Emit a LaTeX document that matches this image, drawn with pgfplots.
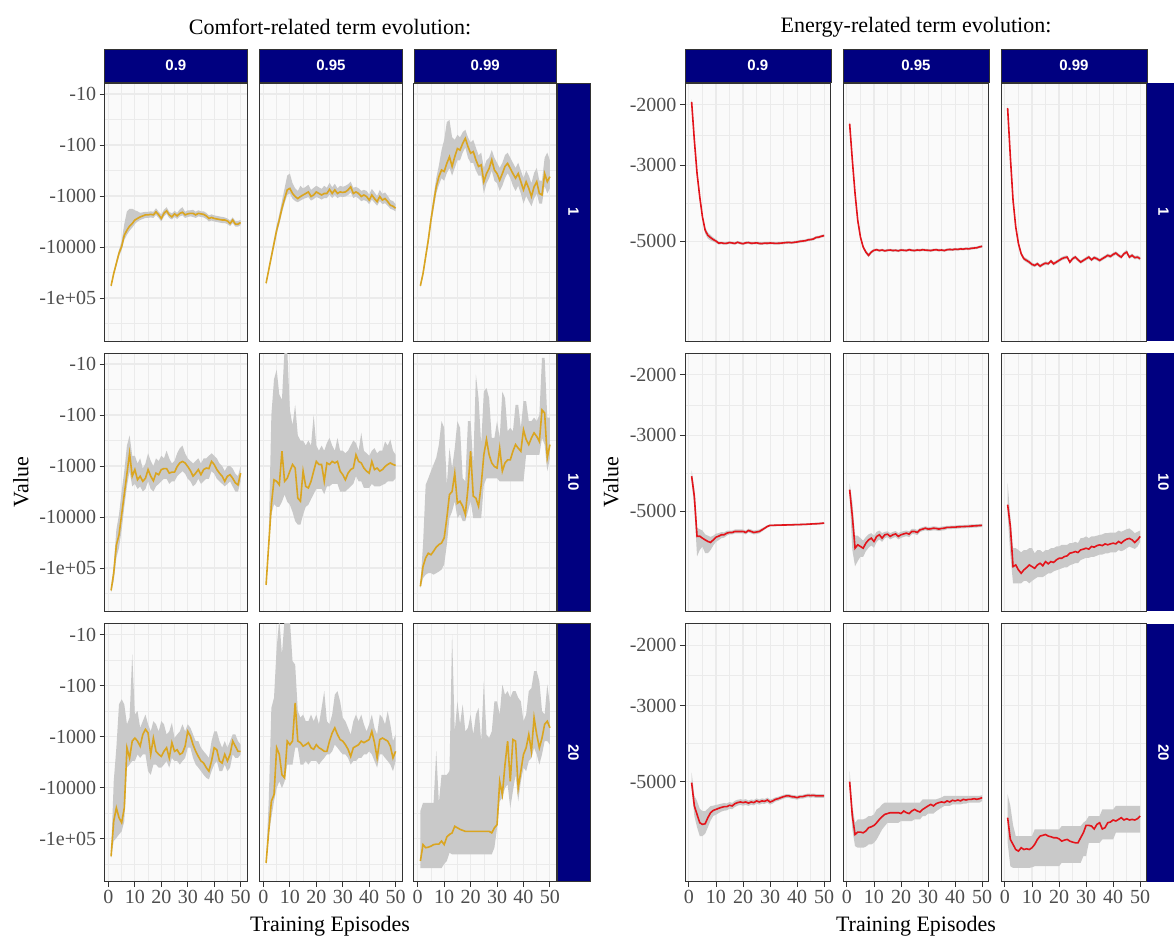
\documentclass[border=0pt]{standalone}
\usepackage{fontspec}
\setmainfont{Liberation Serif}
\newfontfamily\sansf{Liberation Sans}
\usepackage{pgfplots}
\usepackage{pgfplotstable}
\pgfplotsset{compat=1.18}
\usepgfplotslibrary{fillbetween}

\newcommand\ticksize{\fontsize{20}{22}\selectfont}
\newcommand\titlef{\fontsize{22}{24}\selectfont}
\newcommand\stripf{\sansf\bfseries\fontsize{15}{17}\selectfont}

\definecolor{navyc}{HTML}{000080}
\definecolor{gridc}{HTML}{EBEBEB}
\definecolor{panelbg}{HTML}{FAFAFA}
\definecolor{framec}{HTML}{333333}
\definecolor{tickc}{HTML}{4D4D4D}
\definecolor{ribc}{HTML}{C9C9C9}
\definecolor{goldc}{HTML}{DAA520}
\definecolor{redc}{HTML}{E3141B}

% Comfort term: columns are log10(-value) for mean (m), ribbon upper edge (u), ribbon lower edge (l)
\pgfplotstableread[row sep=\\]{x m u l\\
1 4.76 4.73 4.79\\ 2 4.52 4.48 4.56\\ 3 4.32 4.27 4.37\\ 4 4.12 4.06 4.18\\ 5 3.99 3.88 4.06\\
6 3.77 3.55 3.86\\ 7 3.67 3.30 3.76\\ 8 3.59 3.25 3.68\\ 9 3.54 3.25 3.62\\ 10 3.47 3.28 3.55\\
11 3.44 3.30 3.50\\ 12 3.41 3.33 3.47\\ 13 3.39 3.32 3.45\\ 14 3.37 3.31 3.43\\ 15 3.37 3.31 3.43\\
16 3.36 3.30 3.42\\ 17 3.37 3.31 3.43\\ 18 3.31 3.24 3.37\\ 19 3.37 3.31 3.43\\ 20 3.44 3.36 3.50\\
21 3.34 3.27 3.40\\ 22 3.29 3.22 3.35\\ 23 3.37 3.31 3.43\\ 24 3.41 3.34 3.46\\ 25 3.35 3.29 3.41\\
26 3.39 3.33 3.45\\ 27 3.34 3.26 3.40\\ 28 3.32 3.22 3.38\\ 29 3.37 3.31 3.43\\ 30 3.35 3.28 3.41\\
31 3.34 3.28 3.40\\ 32 3.34 3.27 3.41\\ 33 3.37 3.31 3.43\\ 34 3.34 3.28 3.40\\ 35 3.35 3.30 3.41\\
36 3.36 3.30 3.42\\ 37 3.39 3.33 3.45\\ 38 3.44 3.38 3.50\\ 39 3.42 3.36 3.48\\ 40 3.44 3.38 3.50\\
41 3.45 3.39 3.51\\ 42 3.46 3.40 3.52\\ 43 3.47 3.41 3.53\\ 44 3.47 3.42 3.53\\ 45 3.49 3.44 3.55\\
46 3.54 3.48 3.59\\ 47 3.47 3.42 3.53\\ 48 3.55 3.49 3.60\\ 49 3.55 3.49 3.60\\ 50 3.52 3.47 3.57\\
}\cAA
\pgfplotstableread[row sep=\\]{x m u l\\
1 4.71 4.68 4.74\\ 2 4.45 4.40 4.50\\ 3 4.19 4.12 4.25\\ 4 3.93 3.85 4.00\\ 5 3.67 3.58 3.75\\
6 3.47 3.36 3.55\\ 7 3.24 3.10 3.33\\ 8 3.05 2.85 3.14\\ 9 2.88 2.60 2.98\\ 10 2.85 2.56 2.95\\
11 2.95 2.75 3.05\\ 12 3.01 2.85 3.10\\ 13 3.05 2.90 3.12\\ 14 3.01 2.80 3.09\\ 15 2.98 2.85 3.06\\
16 2.95 2.82 3.04\\ 17 2.92 2.78 3.02\\ 18 3.01 2.88 3.09\\ 19 2.98 2.84 3.06\\ 20 2.92 2.80 3.02\\
21 2.95 2.83 3.04\\ 22 2.98 2.86 3.07\\ 23 2.95 2.80 3.04\\ 24 2.95 2.84 3.04\\ 25 2.87 2.74 2.97\\
26 2.95 2.83 3.04\\ 27 2.88 2.76 2.98\\ 28 2.95 2.85 3.04\\ 29 2.92 2.80 3.01\\ 30 2.93 2.82 3.02\\
31 2.92 2.80 3.01\\ 32 2.88 2.77 2.98\\ 33 2.82 2.72 2.93\\ 34 2.95 2.84 3.04\\ 35 2.92 2.82 3.01\\
36 2.95 2.85 3.05\\ 37 3.01 2.90 3.10\\ 38 2.98 2.88 3.08\\ 39 3.01 2.90 3.10\\ 40 3.08 2.97 3.16\\
41 2.98 2.86 3.07\\ 42 3.05 2.93 3.13\\ 43 3.11 3.00 3.19\\ 44 3.01 2.88 3.10\\ 45 3.08 2.96 3.16\\
46 3.05 2.93 3.14\\ 47 3.11 3.00 3.19\\ 48 3.18 3.08 3.25\\ 49 3.20 3.10 3.27\\ 50 3.24 3.16 3.30\\
}\cAB
\pgfplotstableread[row sep=\\]{x m u l\\
1 4.76 4.73 4.79\\ 2 4.52 4.47 4.57\\ 3 4.19 4.12 4.26\\ 4 3.86 3.77 3.94\\ 5 3.47 3.36 3.57\\
6 3.14 3.00 3.26\\ 7 2.82 2.65 2.95\\ 8 2.62 2.40 2.78\\ 9 2.49 2.10 2.65\\ 10 2.52 1.90 2.70\\
11 2.36 1.55 2.55\\ 12 2.23 1.51 2.45\\ 13 2.42 1.85 2.60\\ 14 2.23 1.90 2.45\\ 15 2.07 1.80 2.30\\
16 2.10 1.85 2.30\\ 17 1.97 1.75 2.15\\ 18 1.87 1.70 2.05\\ 19 2.03 1.85 2.25\\ 20 2.16 1.95 2.35\\
21 2.13 1.90 2.35\\ 22 2.29 2.05 2.50\\ 23 2.42 2.20 2.60\\ 24 2.39 2.15 2.60\\ 25 2.72 2.45 2.95\\
26 2.56 2.30 2.75\\ 27 2.46 2.25 2.65\\ 28 2.29 2.10 2.50\\ 29 2.49 2.25 2.70\\ 30 2.56 2.35 2.75\\
31 2.69 2.45 2.90\\ 32 2.56 2.35 2.80\\ 33 2.42 2.20 2.65\\ 34 2.36 2.15 2.55\\ 35 2.46 2.25 2.65\\
36 2.56 2.35 2.80\\ 37 2.65 2.45 2.90\\ 38 2.56 2.35 2.80\\ 39 2.72 2.50 2.95\\ 40 2.88 2.65 3.15\\
41 2.72 2.50 3.00\\ 42 2.85 2.60 3.10\\ 43 3.01 2.75 3.20\\ 44 2.82 2.55 3.05\\ 45 2.72 2.45 2.95\\
46 2.95 2.70 3.15\\ 47 2.98 2.70 3.15\\ 48 2.56 2.25 2.80\\ 49 2.72 2.15 2.95\\ 50 2.62 2.30 2.85\\
}\cAC
\pgfplotstableread[row sep=\\]{x m u l\\
1 5.44 5.40 5.48\\ 2 5.10 4.95 5.25\\ 3 4.55 4.25 4.80\\ 4 4.35 3.95 4.60\\ 5 3.95 3.50 4.25\\
6 3.55 3.10 3.80\\ 7 3.15 2.60 3.40\\ 8 2.75 2.40 3.10\\ 9 3.20 2.80 3.40\\ 10 3.07 2.80 3.35\\
11 3.27 2.95 3.45\\ 12 3.20 2.85 3.40\\ 13 3.30 3.05 3.50\\ 14 3.24 2.95 3.45\\ 15 3.07 2.75 3.30\\
16 3.20 2.90 3.45\\ 17 3.29 3.00 3.50\\ 18 3.14 2.85 3.40\\ 19 3.17 2.90 3.35\\ 20 3.07 2.80 3.30\\
21 3.05 2.85 3.25\\ 22 3.05 2.70 3.25\\ 23 3.14 2.85 3.35\\ 24 3.12 2.95 3.30\\ 25 3.12 2.90 3.30\\
26 3.01 2.75 3.20\\ 27 2.94 2.65 3.15\\ 28 2.91 2.60 3.10\\ 29 2.94 2.75 3.15\\ 30 3.01 2.85 3.25\\
31 3.09 2.90 3.30\\ 32 3.20 2.95 3.40\\ 33 3.14 2.90 3.35\\ 34 3.07 2.85 3.25\\ 35 3.17 2.95 3.35\\
36 3.07 2.85 3.30\\ 37 3.04 2.85 3.25\\ 38 3.05 2.80 3.25\\ 39 2.91 2.75 3.10\\ 40 2.97 2.80 3.15\\
41 3.07 2.85 3.25\\ 42 3.14 2.95 3.30\\ 43 3.20 3.00 3.35\\ 44 3.30 3.10 3.40\\ 45 3.20 3.00 3.35\\
46 3.17 3.00 3.30\\ 47 3.24 3.05 3.40\\ 48 3.33 3.15 3.50\\ 49 3.37 3.20 3.50\\ 50 3.14 3.00 3.30\\
}\cBA
\pgfplotstableread[row sep=\\]{x m u l\\
1 5.33 5.30 5.36\\ 2 4.54 4.40 4.65\\ 3 3.76 2.00 3.95\\ 4 3.27 1.30 3.75\\ 5 3.30 1.11 3.80\\
6 3.37 1.60 3.80\\ 7 2.71 1.70 3.70\\ 8 3.30 0.70 3.56\\ 9 3.24 0.70 3.70\\ 10 3.10 1.90 3.76\\
11 2.97 2.20 3.90\\ 12 3.04 1.80 4.08\\ 13 3.63 2.40 4.15\\ 14 3.69 2.50 4.15\\ 15 3.10 2.50 3.95\\
16 3.40 2.60 3.80\\ 17 3.43 2.50 3.76\\ 18 3.30 2.60 3.65\\ 19 3.10 2.00 3.55\\ 20 2.91 2.60 3.45\\
21 2.97 2.70 3.45\\ 22 2.97 2.60 3.45\\ 23 3.30 2.70 3.55\\ 24 2.94 2.55 3.40\\ 25 2.97 2.45 3.40\\
26 2.91 2.60 3.35\\ 27 2.94 2.70 3.35\\ 28 2.91 2.45 3.35\\ 29 3.10 2.70 3.50\\ 30 3.17 2.70 3.50\\
31 3.27 2.75 3.50\\ 32 3.14 2.70 3.45\\ 33 3.07 2.60 3.40\\ 34 3.04 2.50 3.35\\ 35 2.78 2.55 3.20\\
36 2.91 2.70 3.30\\ 37 2.94 2.35 3.30\\ 38 3.04 2.70 3.43\\ 39 3.10 2.75 3.43\\ 40 3.14 2.80 3.43\\
41 2.91 2.70 3.35\\ 42 3.07 2.65 3.40\\ 43 3.04 2.75 3.40\\ 44 3.10 2.70 3.40\\ 45 3.07 2.70 3.37\\
46 3.01 2.52 3.35\\ 47 2.97 2.60 3.30\\ 48 2.94 2.48 3.30\\ 49 2.97 2.70 3.30\\ 50 2.99 2.78 3.24\\
}\cBB
\pgfplotstableread[row sep=\\]{x m u l\\
1 5.36 5.33 5.39\\ 2 4.97 4.54 5.20\\ 3 4.80 3.37 5.13\\ 4 4.71 3.24 5.10\\ 5 4.74 3.10 5.10\\
6 4.67 2.97 5.13\\ 7 4.59 2.84 5.10\\ 8 4.54 2.58 5.07\\ 9 4.51 2.12 5.03\\ 10 4.41 2.25 4.93\\
11 4.02 3.37 4.54\\ 12 3.56 2.65 4.02\\ 13 3.50 3.04 3.89\\ 14 3.14 2.65 3.69\\ 15 3.73 2.12 4.02\\
16 3.69 2.25 3.95\\ 17 3.79 3.24 4.08\\ 18 3.95 3.30 4.08\\ 19 3.43 2.12 3.89\\ 20 2.71 2.12 3.69\\
21 3.59 2.97 4.02\\ 22 3.63 1.21 4.02\\ 23 3.79 1.67 4.02\\ 24 3.37 2.58 4.02\\ 25 2.78 1.54 3.37\\
26 2.48 1.47 3.24\\ 27 2.78 1.67 3.24\\ 28 2.94 2.45 3.24\\ 29 3.01 2.45 3.24\\ 30 3.04 2.12 3.24\\
31 2.65 2.45 3.30\\ 32 3.10 1.54 3.30\\ 33 2.94 1.67 3.30\\ 34 2.88 2.32 3.30\\ 35 2.88 2.25 3.30\\
36 2.71 2.32 3.30\\ 37 2.58 1.80 3.30\\ 38 2.65 1.80 3.30\\ 39 2.71 2.25 3.30\\ 40 2.29 1.73 3.30\\
41 2.48 1.73 2.78\\ 42 2.58 2.12 2.78\\ 43 2.45 2.12 2.78\\ 44 2.35 2.05 2.78\\ 45 2.42 2.12 2.78\\
46 2.52 2.00 2.78\\ 47 1.90 0.88 2.45\\ 48 1.96 0.88 2.58\\ 49 2.84 2.05 3.10\\ 50 2.58 2.05 2.84\\
}\cBC
\pgfplotstableread[row sep=\\]{x m u l\\
1 5.35 5.32 5.38\\ 2 4.66 3.88 5.05\\ 3 4.40 3.22 4.99\\ 4 4.59 2.37 4.92\\ 5 4.69 2.27 4.86\\
6 4.40 2.37 4.66\\ 7 3.22 2.76 3.61\\ 8 3.42 2.63 3.55\\ 9 3.09 1.39 3.48\\ 10 3.03 2.57 3.48\\
11 3.09 2.50 3.35\\ 12 3.19 2.83 3.42\\ 13 2.96 2.70 3.35\\ 14 2.86 2.57 3.35\\ 15 2.93 2.76 3.68\\
16 3.35 2.90 3.75\\ 17 3.03 2.70 3.55\\ 18 3.29 2.76 3.55\\ 19 3.35 2.90 3.61\\ 20 3.39 2.70 3.61\\
21 3.29 2.76 3.55\\ 22 3.22 2.96 3.48\\ 23 3.42 2.90 3.61\\ 24 3.12 2.73 3.42\\ 25 3.29 3.03 3.48\\
26 3.26 2.96 3.48\\ 27 3.35 2.90 3.55\\ 28 3.32 2.76 3.48\\ 29 3.19 2.90 3.42\\ 30 2.90 2.76 3.22\\
31 2.99 2.83 3.22\\ 32 3.16 2.96 3.42\\ 33 3.29 3.09 3.55\\ 34 3.39 3.09 3.61\\ 35 3.48 3.22 3.68\\
36 3.52 3.29 3.75\\ 37 3.61 3.35 3.81\\ 38 3.68 3.42 3.84\\ 39 3.48 3.09 3.68\\ 40 3.22 2.90 3.55\\
41 3.26 2.90 3.48\\ 42 3.48 3.09 3.68\\ 43 3.52 3.22 3.68\\ 44 3.35 3.09 3.55\\ 45 3.48 3.22 3.68\\
46 3.35 3.09 3.61\\ 47 3.09 2.96 3.35\\ 48 3.19 2.96 3.42\\ 49 3.29 3.09 3.42\\ 50 3.29 3.16 3.35\\
}\cCA
\pgfplotstableread[row sep=\\]{x m u l\\
1 5.48 5.44 5.51\\ 2 4.86 4.27 4.92\\ 3 4.27 2.44 4.59\\ 4 4.14 2.24 4.27\\ 5 3.22 1.26 4.01\\
6 3.35 0.70 3.88\\ 7 3.75 1.39 4.01\\ 8 3.81 0.70 3.88\\ 9 3.09 0.70 3.55\\ 10 3.16 0.70 3.55\\
11 3.09 1.52 3.55\\ 12 2.34 1.59 3.22\\ 13 3.09 2.50 3.22\\ 14 3.12 2.63 3.55\\ 15 3.19 2.57 3.55\\
16 3.16 2.70 3.48\\ 17 3.12 2.70 3.55\\ 18 3.22 2.57 3.48\\ 19 3.25 2.70 3.48\\ 20 3.16 2.57 3.48\\
21 3.22 2.76 3.55\\ 22 3.25 2.44 3.48\\ 23 3.29 2.11 3.42\\ 24 3.29 2.70 3.35\\ 25 3.09 2.76 3.35\\
26 2.93 2.57 3.29\\ 27 2.83 2.18 3.16\\ 28 2.96 2.11 3.22\\ 29 3.06 2.31 3.29\\ 30 3.09 2.63 3.35\\
31 3.16 2.70 3.35\\ 32 3.25 2.83 3.42\\ 33 3.39 2.96 3.55\\ 34 3.22 2.70 3.48\\ 35 3.19 2.57 3.48\\
36 3.16 2.70 3.42\\ 37 3.09 2.57 3.42\\ 38 3.12 2.76 3.35\\ 39 3.09 2.90 3.35\\ 40 3.06 2.76 3.29\\
41 2.90 2.57 3.35\\ 42 3.12 2.83 3.48\\ 43 3.42 2.96 3.61\\ 44 3.06 2.57 3.35\\ 45 3.03 2.63 3.35\\
46 3.06 2.76 3.42\\ 47 3.09 2.50 3.48\\ 48 3.19 2.76 3.55\\ 49 3.42 3.09 3.68\\ 50 3.29 2.96 3.48\\
}\cCB
\pgfplotstableread[row sep=\\]{x m u l\\
1 5.44 4.46 5.58\\ 2 5.12 4.30 5.58\\ 3 5.18 4.30 5.58\\ 4 5.17 4.30 5.58\\ 5 5.15 4.30 5.58\\
6 5.12 4.30 5.58\\ 7 5.11 3.29 5.58\\ 8 5.11 4.30 5.58\\ 9 5.05 3.75 5.58\\ 10 5.12 3.75 5.50\\
11 4.97 3.75 5.44\\ 12 4.92 3.68 5.28\\ 13 4.89 1.00 5.31\\ 14 4.76 2.90 5.31\\ 15 4.79 2.31 5.31\\
16 4.82 2.76 5.31\\ 17 4.84 2.37 5.31\\ 18 4.86 2.90 5.31\\ 19 4.86 2.83 5.31\\ 20 4.86 2.57 5.31\\
21 4.86 2.96 5.31\\ 22 4.86 2.57 5.31\\ 23 4.86 2.44 5.31\\ 24 4.86 3.09 5.31\\ 25 4.86 1.92 5.31\\
26 4.86 2.96 5.31\\ 27 4.86 3.03 5.31\\ 28 4.89 2.90 5.31\\ 29 4.79 2.31 5.18\\ 30 4.73 2.31 4.79\\
31 3.88 2.57 4.27\\ 32 4.14 1.98 4.20\\ 33 3.55 2.18 4.01\\ 34 3.09 2.11 3.94\\ 35 3.88 2.24 4.40\\
36 3.06 2.11 4.07\\ 37 3.09 2.11 3.75\\ 38 4.01 2.24 4.27\\ 39 3.68 2.31 3.88\\ 40 3.35 2.70 3.61\\
41 3.22 2.57 3.68\\ 42 2.96 2.11 3.48\\ 43 3.29 2.05 3.42\\ 44 2.63 1.72 3.22\\ 45 2.96 1.72 3.35\\
46 3.22 1.92 3.55\\ 47 3.03 2.50 3.35\\ 48 2.76 2.57 3.09\\ 49 2.70 1.98 3.09\\ 50 2.83 2.37 3.16\\
}\cCC

% Energy term: actual values (mean m, ribbon upper u, ribbon lower l)
\pgfplotstableread[row sep=\\]{x m u l\\
1 -1960 -1925 -1995\\ 2 -2535 -2490 -2580\\ 3 -3170 -3110 -3230\\ 4 -3715 -3650 -3780\\ 5 -4250 -4180 -4320\\
6 -4650 -4560 -4750\\ 7 -4810 -4720 -4920\\ 8 -4885 -4800 -4980\\ 9 -4950 -4880 -5020\\ 10 -5000 -4940 -5060\\
11 -5070 -5020 -5120\\ 12 -5060 -5015 -5105\\ 13 -5080 -5035 -5125\\ 14 -5075 -5030 -5120\\ 15 -5050 -5005 -5095\\
16 -5065 -5020 -5110\\ 17 -5080 -5035 -5125\\ 18 -5040 -4995 -5085\\ 19 -5070 -5025 -5115\\ 20 -5090 -5045 -5135\\
21 -5060 -5015 -5105\\ 22 -5050 -5005 -5095\\ 23 -5075 -5030 -5120\\ 24 -5070 -5025 -5115\\ 25 -5060 -5015 -5105\\
26 -5080 -5035 -5125\\ 27 -5085 -5040 -5130\\ 28 -5070 -5025 -5115\\ 29 -5075 -5030 -5120\\ 30 -5065 -5020 -5110\\
31 -5070 -5025 -5115\\ 32 -5080 -5035 -5125\\ 33 -5075 -5030 -5120\\ 34 -5070 -5025 -5115\\ 35 -5060 -5015 -5105\\
36 -5050 -5005 -5095\\ 37 -5045 -5000 -5090\\ 38 -5055 -5010 -5100\\ 39 -5040 -4995 -5085\\ 40 -5030 -4985 -5075\\
41 -5010 -4965 -5055\\ 42 -5000 -4955 -5045\\ 43 -4990 -4945 -5035\\ 44 -4960 -4915 -5005\\ 45 -4950 -4905 -4995\\
46 -4930 -4885 -4975\\ 47 -4880 -4835 -4925\\ 48 -4870 -4825 -4915\\ 49 -4840 -4795 -4885\\ 50 -4820 -4775 -4865\\
}\eAA
\pgfplotstableread[row sep=\\]{x m u l\\
1 -2270 -2230 -2310\\ 2 -2900 -2850 -2950\\ 3 -3630 -3570 -3690\\ 4 -4350 -4280 -4420\\ 5 -4870 -4800 -4940\\
6 -5205 -5140 -5270\\ 7 -5385 -5320 -5450\\ 8 -5505 -5440 -5570\\ 9 -5385 -5330 -5440\\ 10 -5320 -5270 -5370\\
11 -5300 -5255 -5345\\ 12 -5330 -5285 -5375\\ 13 -5310 -5265 -5355\\ 14 -5340 -5295 -5385\\ 15 -5320 -5275 -5365\\
16 -5310 -5265 -5355\\ 17 -5330 -5285 -5375\\ 18 -5320 -5275 -5365\\ 19 -5340 -5295 -5385\\ 20 -5310 -5265 -5355\\
21 -5320 -5275 -5365\\ 22 -5330 -5285 -5375\\ 23 -5300 -5255 -5345\\ 24 -5320 -5275 -5365\\ 25 -5330 -5285 -5375\\
26 -5310 -5265 -5355\\ 27 -5320 -5275 -5365\\ 28 -5300 -5255 -5345\\ 29 -5315 -5270 -5360\\ 30 -5320 -5275 -5365\\
31 -5330 -5285 -5375\\ 32 -5310 -5265 -5355\\ 33 -5300 -5255 -5345\\ 34 -5320 -5275 -5365\\ 35 -5310 -5265 -5355\\
36 -5330 -5285 -5375\\ 37 -5300 -5255 -5345\\ 38 -5290 -5245 -5335\\ 39 -5300 -5255 -5345\\ 40 -5280 -5235 -5325\\
41 -5290 -5245 -5335\\ 42 -5270 -5225 -5315\\ 43 -5280 -5235 -5325\\ 44 -5260 -5215 -5305\\ 45 -5270 -5225 -5315\\
46 -5250 -5205 -5295\\ 47 -5240 -5195 -5285\\ 48 -5230 -5185 -5275\\ 49 -5200 -5155 -5245\\ 50 -5180 -5135 -5225\\
}\eAB
\pgfplotstableread[row sep=\\]{x m u l\\
1 -2045 -2010 -2080\\ 2 -2835 -2780 -2890\\ 3 -3800 -3730 -3870\\ 4 -4550 -4470 -4630\\ 5 -5090 -5010 -5170\\
6 -5445 -5370 -5520\\ 7 -5630 -5560 -5700\\ 8 -5695 -5620 -5770\\ 9 -5760 -5690 -5830\\ 10 -5850 -5780 -5920\\
11 -5890 -5825 -5955\\ 12 -5825 -5760 -5890\\ 13 -5920 -5855 -5985\\ 14 -5850 -5785 -5915\\ 15 -5800 -5735 -5865\\
16 -5825 -5760 -5890\\ 17 -5720 -5655 -5785\\ 18 -5825 -5760 -5890\\ 19 -5760 -5695 -5825\\ 20 -5695 -5630 -5760\\
21 -5630 -5565 -5695\\ 22 -5590 -5525 -5655\\ 23 -5570 -5505 -5635\\ 24 -5760 -5695 -5825\\ 25 -5630 -5565 -5695\\
26 -5570 -5505 -5635\\ 27 -5670 -5605 -5735\\ 28 -5760 -5695 -5825\\ 29 -5695 -5630 -5760\\ 30 -5630 -5565 -5695\\
31 -5570 -5505 -5635\\ 32 -5670 -5605 -5735\\ 33 -5590 -5525 -5655\\ 34 -5630 -5565 -5695\\ 35 -5695 -5630 -5760\\
36 -5630 -5565 -5695\\ 37 -5570 -5505 -5635\\ 38 -5505 -5440 -5570\\ 39 -5545 -5480 -5610\\ 40 -5470 -5405 -5535\\
41 -5420 -5355 -5485\\ 42 -5505 -5440 -5570\\ 43 -5570 -5505 -5635\\ 44 -5445 -5380 -5510\\ 45 -5385 -5300 -5450\\
46 -5570 -5505 -5635\\ 47 -5505 -5440 -5570\\ 48 -5590 -5525 -5655\\ 49 -5570 -5505 -5635\\ 50 -5630 -5565 -5695\\
}\eAC
\pgfplotstableread[row sep=\\]{x m u l\\
1 -3955 -3800 -4100\\ 2 -4530 -4300 -4900\\ 3 -5930 -5600 -6780\\ 4 -5920 -5650 -6500\\ 5 -6000 -5700 -6350\\
6 -6070 -5850 -6640\\ 7 -6135 -5900 -6640\\ 8 -6175 -5950 -6500\\ 9 -6070 -5900 -6300\\ 10 -5960 -5820 -6150\\
11 -5920 -5800 -6080\\ 12 -5865 -5760 -6000\\ 13 -5865 -5770 -5980\\ 14 -5800 -5710 -5900\\ 15 -5775 -5700 -5850\\
16 -5775 -5700 -5850\\ 17 -5735 -5660 -5810\\ 18 -5735 -5660 -5810\\ 19 -5735 -5660 -5810\\ 20 -5735 -5660 -5810\\
21 -5775 -5700 -5850\\ 22 -5700 -5630 -5770\\ 23 -5735 -5660 -5810\\ 24 -5775 -5700 -5850\\ 25 -5755 -5680 -5830\\
26 -5735 -5660 -5810\\ 27 -5675 -5610 -5740\\ 28 -5610 -5560 -5660\\ 29 -5545 -5500 -5590\\ 30 -5505 -5465 -5545\\
31 -5505 -5470 -5540\\ 32 -5500 -5465 -5535\\ 33 -5495 -5460 -5530\\ 34 -5495 -5460 -5530\\ 35 -5490 -5455 -5525\\
36 -5490 -5455 -5525\\ 37 -5485 -5450 -5520\\ 38 -5485 -5450 -5520\\ 39 -5480 -5445 -5515\\ 40 -5480 -5445 -5515\\
41 -5475 -5440 -5510\\ 42 -5470 -5435 -5505\\ 43 -5470 -5435 -5505\\ 44 -5460 -5425 -5495\\ 45 -5455 -5420 -5490\\
46 -5450 -5415 -5485\\ 47 -5445 -5410 -5480\\ 48 -5440 -5405 -5475\\ 49 -5430 -5395 -5465\\ 50 -5420 -5385 -5455\\
}\eBA
\pgfplotstableread[row sep=\\]{x m u l\\
1 -4330 -4150 -4500\\ 2 -5180 -4700 -6500\\ 3 -6420 -5900 -7250\\ 4 -6275 -5900 -7000\\ 5 -6345 -6000 -6800\\
6 -6420 -6100 -6800\\ 7 -6205 -5950 -6550\\ 8 -6070 -5850 -6400\\ 9 -6000 -5800 -6300\\ 10 -6135 -5900 -6400\\
11 -5930 -5750 -6150\\ 12 -5865 -5700 -6050\\ 13 -6000 -5800 -6150\\ 14 -5865 -5750 -6000\\ 15 -5840 -5730 -5960\\
16 -5930 -5800 -6050\\ 17 -5865 -5750 -5990\\ 18 -5830 -5720 -5950\\ 19 -5930 -5800 -6050\\ 20 -5865 -5750 -5990\\
21 -5830 -5720 -5950\\ 22 -5800 -5700 -5920\\ 23 -5840 -5730 -5960\\ 24 -5735 -5640 -5840\\ 25 -5735 -5640 -5840\\
26 -5775 -5680 -5880\\ 27 -5675 -5600 -5760\\ 28 -5645 -5570 -5720\\ 29 -5610 -5540 -5690\\ 30 -5645 -5570 -5720\\
31 -5635 -5560 -5710\\ 32 -5610 -5540 -5690\\ 33 -5620 -5550 -5700\\ 34 -5645 -5570 -5720\\ 35 -5620 -5550 -5700\\
36 -5610 -5540 -5690\\ 37 -5580 -5520 -5650\\ 38 -5580 -5520 -5650\\ 39 -5570 -5510 -5640\\ 40 -5570 -5510 -5640\\
41 -5560 -5500 -5625\\ 42 -5555 -5495 -5620\\ 43 -5550 -5490 -5615\\ 44 -5545 -5485 -5610\\ 45 -5540 -5480 -5605\\
46 -5530 -5470 -5595\\ 47 -5525 -5465 -5590\\ 48 -5520 -5460 -5585\\ 49 -5510 -5455 -5570\\ 50 -5505 -5450 -5565\\
}\eBB
\pgfplotstableread[row sep=\\]{x m u l\\
1 -4790 -4140 -5100\\ 2 -5545 -5200 -6700\\ 3 -7265 -6420 -8130\\ 4 -7185 -6420 -8130\\ 5 -7430 -6500 -8130\\
6 -7600 -6600 -8130\\ 7 -7430 -6500 -8000\\ 8 -7315 -6500 -8000\\ 9 -7185 -6420 -8130\\ 10 -7265 -6420 -8000\\
11 -7350 -6640 -7900\\ 12 -7185 -6500 -7800\\ 13 -7105 -6500 -7800\\ 14 -7225 -6600 -7800\\ 15 -7025 -6500 -7700\\
16 -7130 -6500 -7600\\ 17 -7025 -6420 -7600\\ 18 -7065 -6420 -7500\\ 19 -6945 -6345 -7450\\ 20 -6870 -6345 -7400\\
21 -6870 -6275 -7350\\ 22 -6790 -6275 -7300\\ 23 -6760 -6275 -7300\\ 24 -6640 -6200 -7200\\ 25 -6610 -6200 -7150\\
26 -6565 -6150 -7100\\ 27 -6610 -6200 -7100\\ 28 -6495 -6000 -6950\\ 29 -6460 -5990 -6900\\ 30 -6420 -5930 -6850\\
31 -6460 -6000 -6850\\ 32 -6345 -5930 -6800\\ 33 -6375 -5930 -6800\\ 34 -6310 -5900 -6750\\ 35 -6275 -5870 -6700\\
36 -6310 -5850 -6700\\ 37 -6235 -5800 -6650\\ 38 -6275 -5800 -6650\\ 39 -6235 -5780 -6600\\ 40 -6205 -5780 -6600\\
41 -6235 -5780 -6600\\ 42 -6135 -5700 -6500\\ 43 -6205 -5750 -6550\\ 44 -6105 -5700 -6500\\ 45 -6040 -5650 -6420\\
46 -6010 -5620 -6350\\ 47 -6070 -5700 -6400\\ 48 -6175 -5800 -6450\\ 49 -6070 -5750 -6350\\ 50 -5930 -5700 -6150\\
}\eBC
\pgfplotstableread[row sep=\\]{x m u l\\
1 -5035 -4705 -5200\\ 2 -5890 -5500 -6300\\ 3 -6235 -5700 -6800\\ 4 -6595 -6000 -7215\\ 5 -6670 -6100 -7215\\
6 -6640 -6100 -7100\\ 7 -6375 -6000 -6800\\ 8 -6165 -5900 -6500\\ 9 -6070 -5880 -6300\\ 10 -6030 -5850 -6250\\
11 -5985 -5830 -6180\\ 12 -5950 -5800 -6120\\ 13 -5920 -5780 -6080\\ 14 -5920 -5790 -6070\\ 15 -5865 -5740 -6000\\
16 -5890 -5770 -6020\\ 17 -5800 -5690 -5930\\ 18 -5760 -5650 -5880\\ 19 -5735 -5630 -5850\\ 20 -5760 -5650 -5880\\
21 -5735 -5630 -5850\\ 22 -5780 -5680 -5890\\ 23 -5735 -5640 -5840\\ 24 -5760 -5660 -5870\\ 25 -5695 -5600 -5800\\
26 -5735 -5640 -5840\\ 27 -5695 -5600 -5800\\ 28 -5710 -5620 -5810\\ 29 -5660 -5570 -5760\\ 30 -5735 -5640 -5840\\
31 -5695 -5610 -5790\\ 32 -5635 -5560 -5720\\ 33 -5610 -5540 -5690\\ 34 -5570 -5500 -5650\\ 35 -5535 -5470 -5610\\
36 -5505 -5440 -5580\\ 37 -5505 -5440 -5580\\ 38 -5535 -5470 -5610\\ 39 -5545 -5480 -5620\\ 40 -5570 -5500 -5650\\
41 -5535 -5470 -5610\\ 42 -5535 -5470 -5610\\ 43 -5505 -5440 -5580\\ 44 -5485 -5420 -5560\\ 45 -5495 -5430 -5570\\
46 -5485 -5420 -5560\\ 47 -5505 -5440 -5580\\ 48 -5505 -5440 -5580\\ 49 -5505 -5440 -5580\\ 50 -5505 -5440 -5580\\
}\eCA
\pgfplotstableread[row sep=\\]{x m u l\\
1 -5000 -4650 -5145\\ 2 -6305 -5890 -6900\\ 3 -7140 -6595 -7720\\ 4 -7025 -6450 -7805\\ 5 -7025 -6450 -7805\\
6 -7060 -6450 -7805\\ 7 -6975 -6400 -7750\\ 8 -6820 -6305 -7635\\ 9 -6780 -6305 -7635\\ 10 -6715 -6235 -7550\\
11 -6595 -6030 -7380\\ 12 -6450 -5960 -7140\\ 13 -6330 -5830 -6900\\ 14 -6235 -5760 -6745\\ 15 -6200 -5760 -6600\\
16 -6165 -5760 -6600\\ 17 -6165 -5760 -6600\\ 18 -6165 -5760 -6600\\ 19 -6165 -5760 -6600\\ 20 -6200 -5760 -6520\\
21 -6095 -5760 -6520\\ 22 -6165 -5760 -6520\\ 23 -6200 -5760 -6520\\ 24 -6095 -5760 -6520\\ 25 -6030 -5760 -6450\\
26 -6095 -5760 -6450\\ 27 -6135 -5760 -6450\\ 28 -6030 -5635 -6305\\ 29 -5960 -5635 -6305\\ 30 -5890 -5635 -6200\\
31 -5830 -5635 -6200\\ 32 -5890 -5635 -6200\\ 33 -5800 -5635 -6100\\ 34 -5760 -5600 -6030\\ 35 -5735 -5560 -5960\\
36 -5760 -5505 -5890\\ 37 -5695 -5505 -5890\\ 38 -5735 -5505 -5890\\ 39 -5670 -5505 -5830\\ 40 -5695 -5505 -5830\\
41 -5660 -5505 -5830\\ 42 -5695 -5505 -5830\\ 43 -5635 -5505 -5800\\ 44 -5660 -5505 -5800\\ 45 -5635 -5505 -5760\\
46 -5635 -5505 -5760\\ 47 -5610 -5505 -5760\\ 48 -5635 -5505 -5760\\ 49 -5610 -5505 -5760\\ 50 -5570 -5480 -5700\\
}\eCB
\pgfplotstableread[row sep=\\]{x m u l\\
1 -6375 -5450 -7550\\ 2 -7380 -5890 -8835\\ 3 -7635 -6700 -8940\\ 4 -7900 -7215 -8940\\ 5 -7985 -7215 -8940\\
6 -7805 -7215 -8940\\ 7 -7900 -7215 -8940\\ 8 -7860 -7215 -8940\\ 9 -7900 -7215 -8940\\ 10 -7805 -7215 -8900\\
11 -7635 -6900 -8835\\ 12 -7380 -6900 -8835\\ 13 -7215 -6900 -8835\\ 14 -7180 -6900 -8835\\ 15 -7140 -6900 -8835\\
16 -7215 -6900 -8835\\ 17 -7250 -6900 -8835\\ 18 -7295 -6900 -8835\\ 19 -7295 -6900 -8835\\ 20 -7350 -6900 -8835\\
21 -7465 -6745 -8635\\ 22 -7415 -6745 -8635\\ 23 -7380 -6745 -8635\\ 24 -7465 -6745 -8635\\ 25 -7515 -6745 -8635\\
26 -7550 -6745 -8635\\ 27 -7550 -6745 -8635\\ 28 -7295 -6745 -8635\\ 29 -7055 -6595 -8255\\ 30 -6715 -6500 -8255\\
31 -6715 -6305 -7550\\ 32 -6745 -6305 -7550\\ 33 -6880 -6305 -7550\\ 34 -6670 -6305 -7550\\ 35 -6595 -6305 -7550\\
36 -6880 -6030 -7380\\ 37 -6820 -6030 -7380\\ 38 -6595 -6030 -7380\\ 39 -6565 -6030 -7380\\ 40 -6475 -6030 -7380\\
41 -6520 -5890 -7055\\ 42 -6450 -5890 -7055\\ 43 -6375 -5890 -7055\\ 44 -6475 -5890 -7055\\ 45 -6420 -5890 -7055\\
46 -6475 -5890 -7055\\ 47 -6450 -5890 -7055\\ 48 -6475 -5890 -7055\\ 49 -6420 -5890 -7055\\ 50 -6305 -5890 -7055\\
}\eCC

\pgfplotsset{
  panelbase/.style={scale only axis, anchor=north west, height=258pt,
    xmin=-1.45, xmax=52.45, xtick={0,10,20,30,40,50}, minor xtick={5,15,25,35,45},
    grid=both,
    major grid style={draw=gridc, line width=1.1pt},
    minor grid style={draw=gridc, line width=0.55pt},
    axis background/.style={fill=panelbg},
    axis line style={draw=framec, line width=0.9pt},
    tick align=outside, major tick length=5pt, minor tick length=0pt,
    xtick pos=bottom, ytick pos=left,
    tick style={draw=framec, line width=0.9pt},
    tick label style={font=\ticksize, text=tickc},
    xticklabels={}, yticklabels={},
    xtick style={draw=none}, ytick style={draw=none}},
  cbase/.style={panelbase, width=142.5pt, ymin=-5.843, ymax=-0.784,
    ytick={-5,-4,-3,-2,-1}, minor ytick={-5.5,-4.5,-3.5,-2.5,-1.5}},
  ebase/.style={panelbase, width=145.8pt, ymin=-3.991, ymax=-3.237,
    ytick={-3.69897,-3.47712,-3.30103}, minor ytick={-3.58805,-3.38908}},
  cleft/.style={yticklabels={-1e+05,-10000,-1000,-100,-10}, ytick style={draw=framec}},
  eleft/.style={yticklabels={-5000,-3000,-2000}, ytick style={draw=framec}},
  bott/.style={xticklabels={0,10,20,30,40,50}, xtick style={draw=framec}},
}

\newcommand\cpanel[4]{%
\begin{axis}[cbase, at={(#1pt,-#2pt)}, #4]
\addplot[draw=none, name path=U] table[x=x, y expr=-\thisrow{u}] {#3};
\addplot[draw=none, name path=L] table[x=x, y expr=-\thisrow{l}] {#3};
\addplot[fill=ribc, draw=none] fill between[of=U and L];
\addplot[goldc, line width=1.6pt] table[x=x, y expr=-\thisrow{m}] {#3};
\end{axis}}

\newcommand\epanel[4]{%
\begin{axis}[ebase, at={(#1pt,-#2pt)}, #4]
\addplot[draw=none, name path=U] table[x=x, y expr={-0.4342945*ln(-\thisrow{u})}] {#3};
\addplot[draw=none, name path=L] table[x=x, y expr={-0.4342945*ln(-\thisrow{l})}] {#3};
\addplot[fill=ribc, draw=none] fill between[of=U and L];
\addplot[redc, line width=1.6pt] table[x=x, y expr={-0.4342945*ln(-\thisrow{m})}] {#3};
\end{axis}}

\begin{document}
\begin{tikzpicture}

\cpanel{104.6}{83}{\cAA}{cleft}
\cpanel{259.6}{83}{\cAB}{}
\cpanel{413.9}{83}{\cAC}{}
\cpanel{104.6}{353}{\cBA}{cleft}
\cpanel{259.6}{353}{\cBB}{}
\cpanel{413.9}{353}{\cBC}{}
\cpanel{104.6}{623.5}{\cCA}{cleft,bott}
\cpanel{259.6}{623.5}{\cCB}{bott}
\cpanel{413.9}{623.5}{\cCC}{bott}

\epanel{685}{83}{\eAA}{eleft}
\epanel{843}{83}{\eAB}{}
\epanel{1001}{83}{\eAC}{}
\epanel{685}{353}{\eBA}{eleft}
\epanel{843}{353}{\eBB}{}
\epanel{1001}{353}{\eBC}{}
\epanel{685}{623.5}{\eCA}{eleft,bott}
\epanel{843}{623.5}{\eCB}{bott}
\epanel{1001}{623.5}{\eCC}{bott}

% facet strips
\foreach \xa/\xb/\lab in {104.6/247.1/0.9, 259.6/402.1/0.95, 413.9/556.4/0.99, 685/830.8/0.9, 843/988.8/0.95, 1001/1146.8/0.99}{
  \draw[fill=navyc, draw=framec, line width=0.6pt] (\xa pt,-49pt) rectangle (\xb pt,-82pt);
  \node[text=white, font=\stripf] at ({(\xa+\xb)/2*1pt},-65.5pt) {\lab};
}
\foreach \ya/\yb/\lab in {83/341/1, 353/611/10, 623.5/881.5/20}{
  \draw[fill=navyc, draw=framec, line width=0.6pt] (557pt,-\ya pt) rectangle (590pt,-\yb pt);
  \node[rotate=-90, text=white, font=\stripf] at (573.5pt,{-(\ya+\yb)/2*1pt}) {\lab};
  \fill[navyc] (1147pt,-\ya pt) rectangle (1174pt,-\yb pt);
  \node[rotate=-90, text=white, font=\stripf] at (1163.5pt,{-(\ya+\yb)/2*1pt}) {\lab};
}

\node[font=\titlef] at (330pt,-27pt) {Comfort-related term evolution:};
\node[font=\titlef] at (916pt,-27pt) {Energy-related term evolution:};
\node[font=\titlef, rotate=90] at (21pt,-482pt) {Value};
\node[font=\titlef, rotate=90] at (611pt,-482pt) {Value};
\node[font=\titlef] at (330pt,-926pt) {Training Episodes};
\node[font=\titlef] at (916pt,-926pt) {Training Episodes};

\pgfresetboundingbox
\path[use as bounding box] (0pt,0pt) rectangle (1174pt,-941pt);
\end{tikzpicture}
\end{document}
